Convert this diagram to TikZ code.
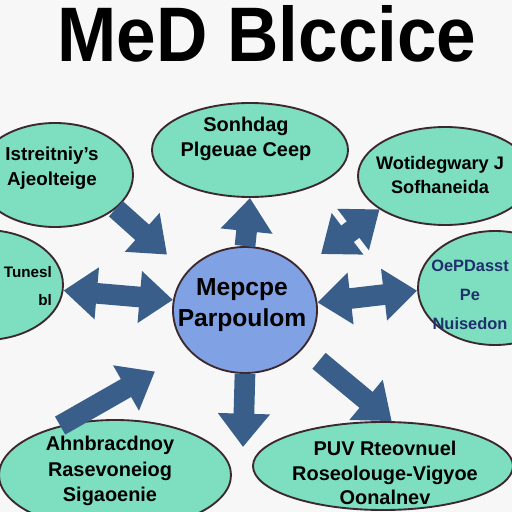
\documentclass[tikz,border=0pt]{standalone}
\usepackage{fontspec}
\setmainfont{Liberation Sans}
\usetikzlibrary{arrows.meta,shapes.geometric}

\definecolor{mint}{RGB}{126,222,192}
\definecolor{skyblue}{RGB}{128,162,228}
\definecolor{steel}{RGB}{58,94,138}
\definecolor{rim}{RGB}{60,40,45}
\definecolor{navy}{RGB}{32,48,108}

\tikzset{
  bubble/.style={ellipse,draw=rim,line width=1.6pt,fill=mint,inner sep=0pt},
  lbl/.style={font=\bfseries\fontsize{17}{22}\selectfont,align=center},
  blk/.style={draw=steel,line width=0.62cm,-{Triangle[width=1.5cm,length=1cm]}},
  dblk/.style={blk,{Triangle[width=1.5cm,length=1cm]}-{Triangle[width=1.5cm,length=1cm]}},
}

\begin{document}
\begin{tikzpicture}[x=0.03cm,y=-0.03cm]
\useasboundingbox (0,0) rectangle (512,512);
\clip (0,0) rectangle (512,512);
\fill[white!97!black] (0,0) rectangle (512,512);

\node[anchor=base,font=\bfseries\fontsize{66}{66}\selectfont] (title) at (267,62) {\scalebox{0.92}[1]{MeD Blccice}};

% bubbles
\node[bubble,fill=skyblue,minimum width=4.32cm,minimum height=3.78cm] (ctr) at (245,310) {};
\node[bubble,minimum width=5.88cm,minimum height=2.82cm] (top) at (250,150) {};
\node[bubble,minimum width=4.68cm,minimum height=3.12cm] (tl) at (55,175) {};
\node[bubble,minimum width=5.22cm,minimum height=2.94cm] (tr) at (445,176) {};
\node[bubble,minimum width=4.68cm,minimum height=3.3cm] (lft) at (-15,285) {};
\node[bubble,minimum width=4.62cm,minimum height=3.42cm] (rgt) at (495,288) {};
\node[bubble,minimum width=6.96cm,minimum height=3.3cm] (bl) at (115,475) {};
\node[bubble,minimum width=7.8cm,minimum height=2.64cm] (br) at (383,466) {};
\coordinate (bot) at (243,447);

% texts
\node[lbl,font=\bfseries\fontsize{21}{26}\selectfont] (ctr-t) at (242,305) {Mepcpe\\Parpoulom};
\node[lbl] (top-t) at (246,139) {Sonhdag\\Plgeuae Ceep};
\node[lbl,font=\bfseries\fontsize{16}{21}\selectfont] (tl-t) at (52,168) {Istreitniy's\\Ajeolteige};
\node[lbl,font=\bfseries\fontsize{15.5}{21}\selectfont] (tr-t) at (440,175) {Wotidegwary J\\Sofhaneida};
\node[lbl,align=right,anchor=east,font=\bfseries\fontsize{13}{24}\selectfont] (lft-t) at (56,286) {Tunesl\\bl};
\node[lbl,text=navy,font=\bfseries\fontsize{14}{25}\selectfont] (rgt-t) at (470,295) {OePDasst\\Pe\\Nuisedon};
\node[lbl,font=\bfseries\fontsize{17}{22}\selectfont] (bl-t) at (110,471) {Ahnbracdnoy\\Rasevoneiog\\Sigaoenie};
\node[lbl,font=\bfseries\fontsize{17}{21}\selectfont] (br-t) at (385,473) {PUV Rteovnuel\\Roseolouge-Vigyoe\\Oonalnev};

% arrows
\draw[blk] (ctr.north) -- (top.south);
\draw[blk,shorten >=0.78cm] (tl.-29) -- (ctr.147);
\draw[dblk,shorten >=0.75cm] (tr.207) -- (ctr.36);
\draw[dblk] (lft.-4) -- (ctr.172);
\draw[dblk] (ctr.6) -- (rgt.182);
\draw[blk,shorten >=1.2cm] (bl.138) -- (ctr.217);
\draw[blk,shorten <=0.6cm] (ctr.-33) -- (br.79);
\draw[blk] (ctr.south) -- (bot);
\end{tikzpicture}
\end{document}
